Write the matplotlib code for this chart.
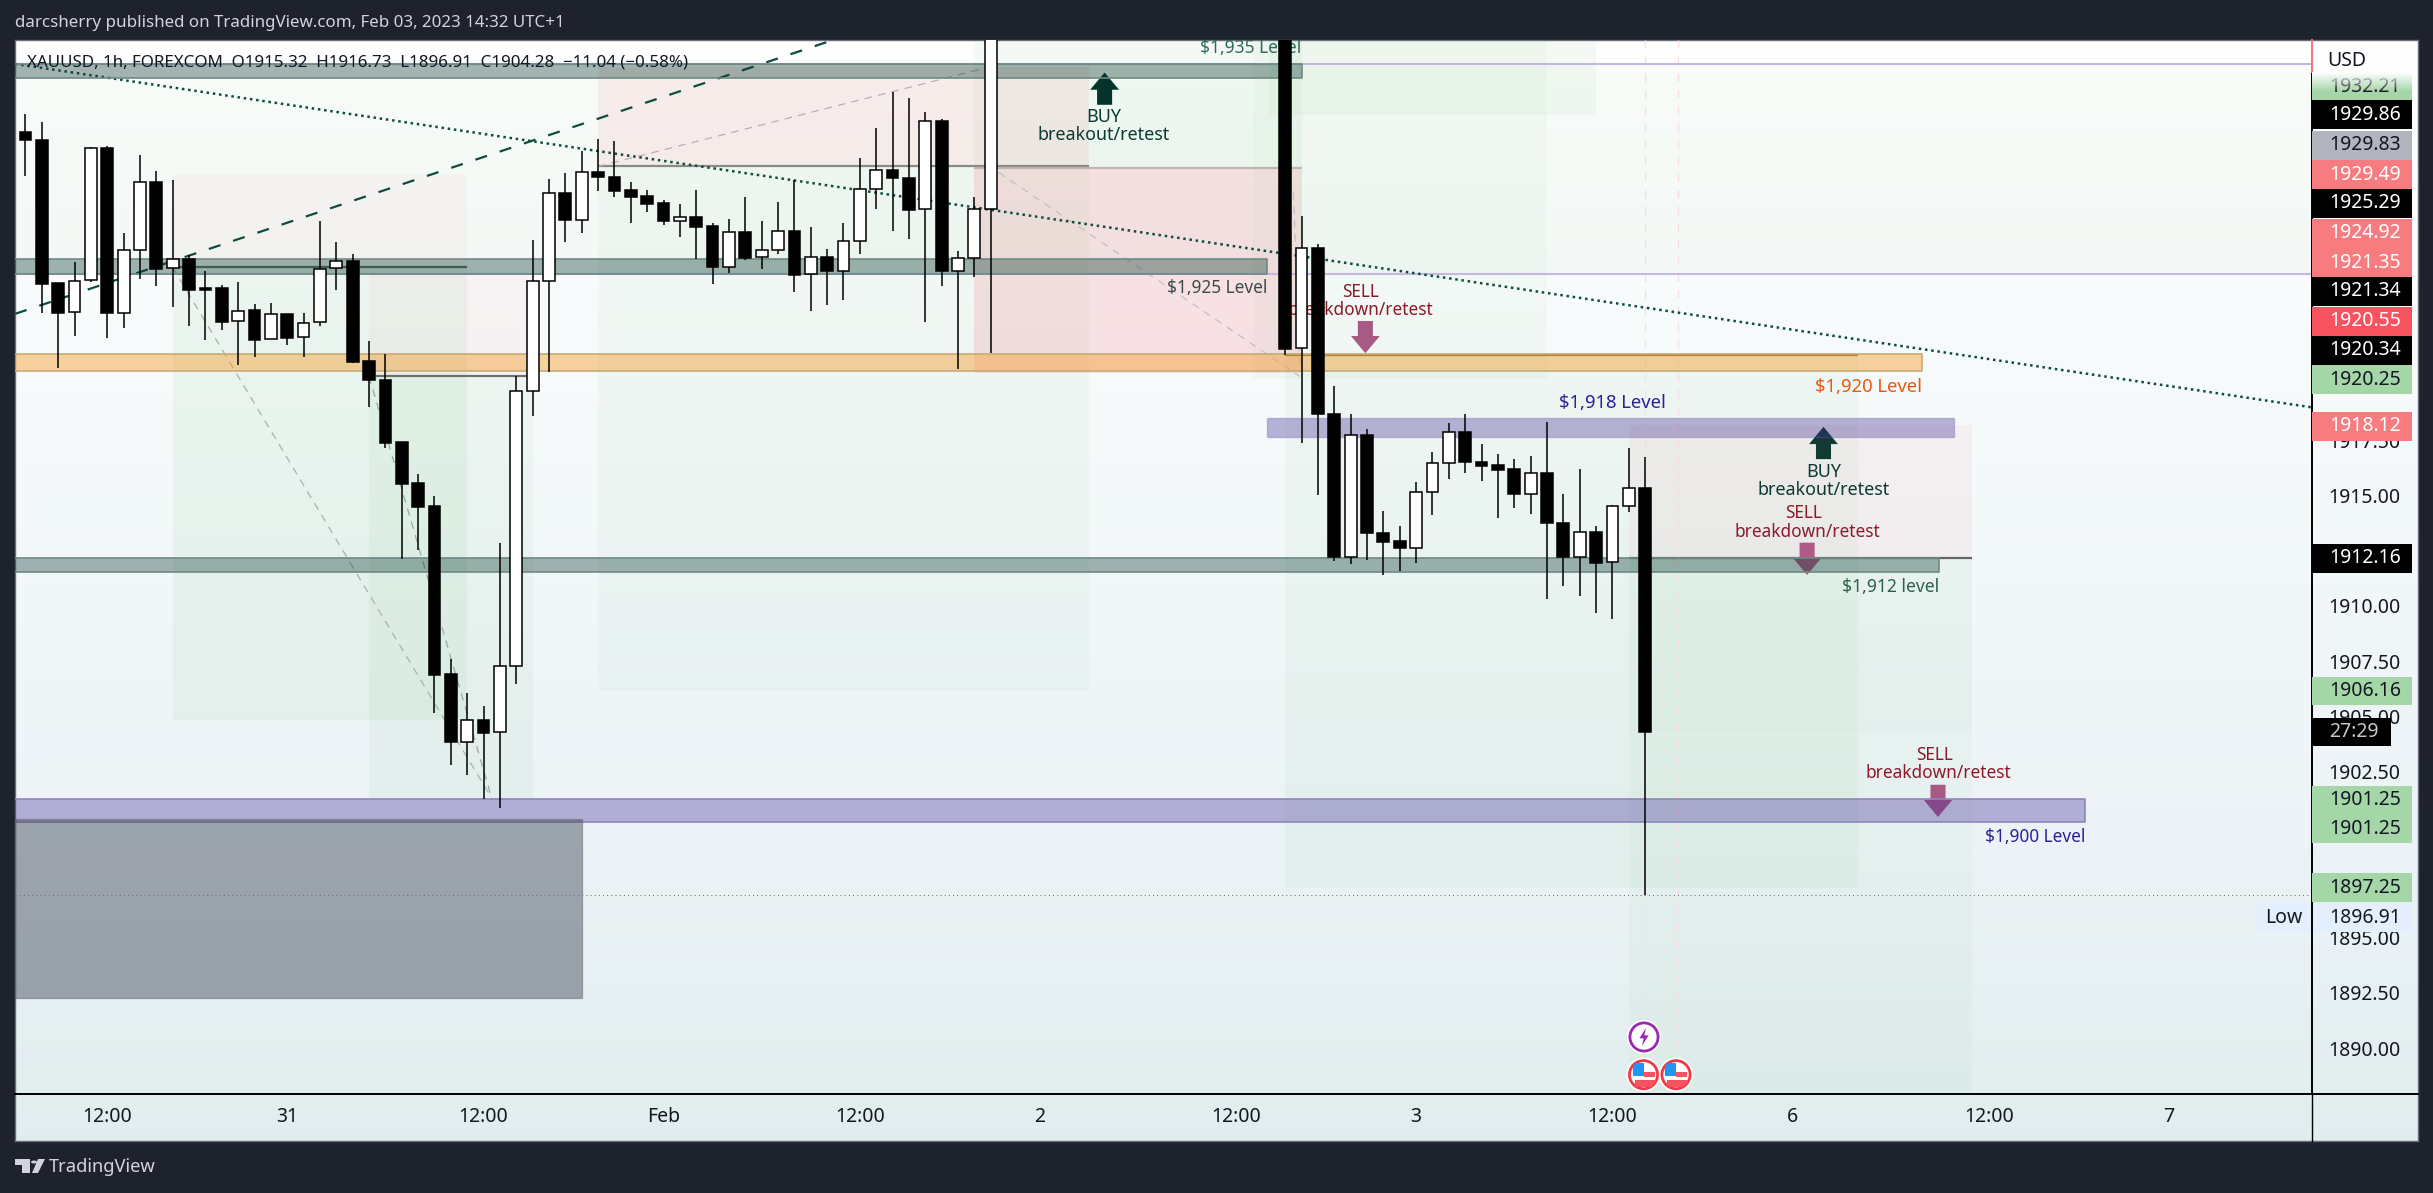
import numpy as np
import matplotlib
matplotlib.use('Agg')
import matplotlib.pyplot as plt
from matplotlib.patches import Rectangle, Polygon, Circle

# hourly candles, the ones between 60 and 76 are above the visible range
bar_index = list(range(60)) + list(range(77, 100))
opens = [1931.43, 1931.09, 1924.60, 1923.29, 1924.74, 1930.72, 1923.24, 1926.09, 1929.17, 1925.28,
         1925.69, 1924.37, 1924.37, 1922.88, 1923.38, 1922.07, 1923.20, 1922.16, 1922.83, 1925.28,
         1925.60, 1921.07, 1920.23, 1917.42, 1915.56, 1914.52, 1906.92, 1903.86, 1904.84, 1904.28,
         1907.27, 1919.71, 1924.72, 1928.67, 1927.45, 1929.64, 1929.40, 1928.82, 1928.55, 1928.23,
         1927.40, 1927.59, 1927.18, 1925.32, 1926.91, 1925.78, 1926.09, 1926.97, 1925.01, 1925.78,
         1925.14, 1926.50, 1928.85, 1929.73, 1929.37, 1927.95, 1931.94, 1925.13, 1925.73, 1927.95,
         1937.50, 1921.66, 1926.18, 1918.69, 1912.21, 1917.74, 1913.29, 1912.93, 1912.61, 1915.15,
         1916.46, 1917.88, 1916.52, 1916.38, 1916.19, 1915.06, 1916.02, 1913.74, 1912.21, 1913.35,
         1911.98, 1914.51, 1915.32]
highs = [1932.25, 1931.88, 1924.60, 1925.55, 1930.77, 1930.81, 1926.86, 1930.41, 1929.68, 1929.28,
         1925.88, 1925.16, 1924.51, 1924.64, 1923.66, 1923.71, 1923.20, 1923.27, 1927.42, 1926.47,
         1925.93, 1921.99, 1921.40, 1917.42, 1915.97, 1914.98, 1907.59, 1906.05, 1905.47, 1912.85,
         1920.38, 1926.56, 1929.32, 1929.59, 1930.59, 1931.12, 1931.04, 1929.18, 1928.82, 1928.36,
         1928.19, 1928.81, 1927.31, 1927.50, 1928.51, 1927.42, 1928.28, 1929.28, 1927.15, 1926.15,
         1927.31, 1930.26, 1931.63, 1933.26, 1932.97, 1932.34, 1932.02, 1926.06, 1928.51, 1938.50,
         1938.50, 1927.65, 1926.36, 1919.96, 1918.69, 1918.00, 1914.30, 1913.62, 1915.61, 1916.97,
         1918.28, 1918.69, 1917.33, 1916.88, 1916.66, 1916.79, 1918.33, 1915.07, 1916.20, 1913.62,
         1914.56, 1917.14, 1916.73]
lows = [1929.43, 1923.23, 1920.74, 1922.23, 1924.63, 1922.14, 1922.59, 1924.81, 1924.49, 1923.54,
        1922.68, 1922.01, 1922.46, 1920.90, 1921.28, 1922.07, 1921.82, 1921.28, 1922.64, 1924.31,
        1920.98, 1919.00, 1917.13, 1912.10, 1912.53, 1905.17, 1902.82, 1902.37, 1901.27, 1900.87,
        1906.48, 1918.61, 1920.60, 1926.44, 1926.85, 1928.79, 1928.48, 1927.30, 1927.83, 1927.21,
        1926.71, 1925.69, 1924.58, 1925.08, 1925.63, 1925.26, 1925.90, 1924.22, 1923.36, 1923.63,
        1923.82, 1925.94, 1927.96, 1926.94, 1926.62, 1922.86, 1924.49, 1920.71, 1924.90, 1921.46,
        1921.37, 1917.39, 1915.03, 1912.01, 1911.90, 1912.09, 1911.38, 1911.56, 1911.92, 1914.09,
        1915.72, 1915.99, 1915.63, 1913.96, 1914.41, 1914.14, 1910.29, 1910.92, 1910.43, 1909.66,
        1909.39, 1914.27, 1896.91]
closes = [1931.06, 1924.58, 1923.27, 1924.72, 1930.71, 1923.23, 1926.08, 1929.17, 1925.26, 1925.69,
          1924.31, 1924.31, 1922.86, 1923.36, 1922.05, 1923.20, 1922.14, 1922.82, 1925.26, 1925.58,
          1921.05, 1920.20, 1917.39, 1915.53, 1914.48, 1906.88, 1903.86, 1904.83, 1904.27, 1907.27,
          1919.71, 1924.72, 1928.67, 1927.44, 1929.62, 1929.38, 1928.79, 1928.52, 1928.20, 1927.39,
          1927.59, 1927.16, 1925.31, 1926.91, 1925.76, 1926.09, 1926.95, 1924.99, 1925.78, 1925.13,
          1926.50, 1928.85, 1929.71, 1929.34, 1927.93, 1931.93, 1925.13, 1925.73, 1927.95, 1937.50,
          1921.64, 1926.18, 1918.66, 1912.19, 1917.73, 1913.28, 1912.91, 1912.60, 1915.15, 1916.46,
          1917.86, 1916.49, 1916.35, 1916.17, 1915.04, 1916.01, 1913.73, 1912.19, 1913.34, 1911.96,
          1914.51, 1915.33, 1904.28]

# axis
y_ticks = [1890, 1892.5, 1895, 1897.5, 1900, 1902.5, 1905, 1907.5, 1910, 1912.5, 1915, 1917.5]
x_ticks = [5, 16, 28, 39, 51, 62, 74, 85, 97, 108, 120, 131]
x_labels = ['12:00', '31', '12:00', 'Feb', '12:00', '2', '12:00', '3', '12:00', '6', '12:00', '7']

# support / resistance zones: top price, bottom price, last bar, colour, edge
zones = [
    (1934.52, 1933.86, 78, '#0c3b33', '#6f8a85'),
    (1925.69, 1925.02, 75.9, '#0c3b33', '#6f8a85'),
    (1921.39, 1920.62, 115.9, '#f59e2c', '#c8ab75'),
    (1912.16, 1911.55, 116.96, '#0c3b33', '#6f8a85'),
    (1901.27, 1900.24, 125.9, '#3f2b96', '#8f87b8'),
]
zone_1918 = (1918.51, 1917.66, 75.9, 117.9)
gray_box = (1900.35, 1892.26, 34)

# position tool boxes: first bar, last bar, top, bottom, colour, alpha
boxes = [
    (9, 27, 1929.53, 1925.31, '#f23645', 0.035),
    (9, 27, 1925.31, 1904.84, '#4caf50', 0.07),
    (21, 31, 1924.98, 1920.38, '#f23645', 0.04),
    (21, 31, 1920.38, 1901.27, '#4caf50', 0.06),
    (35, 65, 1934.40, 1929.88, '#f23645', 0.075),
    (35, 65, 1929.88, 1906.15, '#4caf50', 0.045),
    (58, 78, 1936.50, 1929.83, '#4caf50', 0.05),
    (58, 78, 1929.83, 1920.53, '#f23645', 0.13),
    (75, 93, 1936.50, 1920.27, '#4caf50', 0.04),
    (76, 96, 1936.50, 1932.21, '#4caf50', 0.05),
    (77, 112, 1921.35, 1897.25, '#4caf50', 0.05),
    (98, 119, 1918.19, 1912.16, '#f23645', 0.05),
    (98, 119, 1912.16, 1904.30, '#4caf50', 0.06),
    (98, 119, 1904.30, 1887.00, '#4caf50', 0.04),
]
entry_lines = [
    (9, 27, 1925.31, '#5f6f6b'),
    (21, 31, 1920.38, '#707070'),
    (35, 65, 1929.88, '#8a8a86'),
    (58, 78, 1929.83, '#c0b4b4'),
    (77, 112, 1921.35, '#7a6a50'),
    (98, 119, 1912.16, '#666660'),
]
guide_lines = [
    (9, 1925.31, 28.5, 1901.3, '#a8b2ad'),
    (21, 1920.38, 28.5, 1901.3, '#9aa8a2'),
    (35, 1929.88, 58.5, 1934.3, '#bdaeae'),
    (59.5, 1929.6, 77.9, 1920.38, '#c0c0c4'),
    (77.5, 1928.7, 77.9, 1921.0, '#c0c0c4'),
]

# arrows: bar, tip price, direction, colour
arrows = [
    (65.96, 1934.13, 1, '#04332c'),
    (81.9, 1921.43, -1, '#a85a85'),
    (109.9, 1918.1, 1, '#123a33'),
    (108.9, 1911.4, -1, '#b05a86'),
    (116.9, 1900.45, -1, '#a85a85'),
]

# drawing notes: bar, price, text, align, colour, size
notes = [
    (65.92, 1932.13, 'BUY', 'center', '#0a3a33', 12.9),
    (65.92, 1931.31, 'breakout/retest', 'center', '#0a3a33', 12.9),
    (78, 1935.26, '$1,935 Level', 'right', '#2f6b5c', 12.5),
    (75.9, 1924.39, '$1,925 Level', 'right', '#3c4a4a', 12.4),
    (81.6, 1924.21, 'SELL', 'center', '#8b1a2b', 12.4),
    (81.6, 1923.39, 'breakdown/retest', 'center', '#8b1a2b', 12.4),
    (96.97, 1919.2, '$1,918 Level', 'center', '#2f1e9c', 13.3),
    (115.9, 1919.92, '$1,920 Level', 'right', '#e8590c', 13.3),
    (109.9, 1916.08, 'BUY', 'center', '#0a3a33', 12.9),
    (109.9, 1915.25, 'breakout/retest', 'center', '#0a3a33', 12.9),
    (108.7, 1914.22, 'SELL', 'center', '#8b1a2b', 12.4),
    (108.9, 1913.36, 'breakdown/retest', 'center', '#8b1a2b', 12.4),
    (116.96, 1910.87, '$1,912 level', 'right', '#2a5f52', 12.6),
    (116.7, 1903.26, 'SELL', 'center', '#8b1a2b', 12.4),
    (116.9, 1902.44, 'breakdown/retest', 'center', '#8b1a2b', 12.4),
    (125.9, 1899.56, '$1,900 Level', 'right', '#2f1e9c', 12.4),
]

# boxes on the price scale: text, height on the scale, box colour, text colour
scale_labels = [
    ('1932.21', 1933.48, '#a5d6a7', '#131722'),
    ('1929.86', 1932.22, '#000000', '#ffffff'),
    ('1929.83', 1930.84, '#b2b5be', '#131722'),
    ('1929.49', 1929.50, '#f77c80', '#ffffff'),
    ('1925.29', 1928.21, '#000000', '#ffffff'),
    ('1924.92', 1926.86, '#f77c80', '#ffffff'),
    ('1921.35', 1925.52, '#f77c80', '#ffffff'),
    ('1921.34', 1924.23, '#000000', '#ffffff'),
    ('1920.55', 1922.87, '#f7525f', '#ffffff'),
    ('1920.34', 1921.56, '#000000', '#ffffff'),
    ('1920.25', 1920.24, '#a5d6a7', '#131722'),
    ('1918.12', 1918.13, '#f77c80', '#ffffff'),
    ('1912.16', 1912.15, '#000000', '#ffffff'),
    ('1906.16', 1906.15, '#a5d6a7', '#131722'),
    ('1901.25', 1901.22, '#a5d6a7', '#131722'),
    ('1901.25', 1899.91, '#a5d6a7', '#131722'),
    ('1897.25', 1897.25, '#a5d6a7', '#131722'),
    ('1896.91', 1895.90, '#e3effd', '#131722'),
]

W, H = 2433, 1193
font = 'Noto Sans'
plt.rcParams['font.family'] = [font, 'DejaVu Sans']


def px_rect(left, top, right, bottom):
    return [left / W, 1 - bottom / H, (right - left) / W, (bottom - top) / H]


fig = plt.figure(figsize=(W / 100, H / 100), dpi=100, facecolor='#1e222d')

# gradient behind everything
bg = fig.add_axes(px_rect(15, 40, 2418, 1141), zorder=0)
rows = np.linspace(0, 1, 256)
stops = [0, 0.33, 0.74, 1]
grad = np.stack([np.interp(rows, stops, [1.0, 0.965, 0.925, 0.882]),
                 np.interp(rows, stops, [1.0, 0.98, 0.953, 0.929]),
                 np.interp(rows, stops, [1.0, 0.984, 0.965, 0.933])], axis=1)[:, None, :]
bg.imshow(grad, aspect='auto')
bg.set_xticks([])
bg.set_yticks([])
for s in bg.spines.values():
    s.set_color('#6a6d78')
    s.set_linewidth(1)

ax = fig.add_axes(px_rect(15, 40, 2312, 1094), zorder=1)
ax.patch.set_alpha(0)
ax.set_xlim(-0.64, 139.76)
ax.set_ylim(1887.92, 1935.6)

# faint tint above the 1925 line
ax.axhspan(1925.02, 1934.52, color='#4caf50', alpha=0.03, lw=0, zorder=1)

for x0, x1, top, bot, col, a in boxes:
    ax.add_patch(Rectangle((x0, bot), x1 - x0, top - bot, facecolor=col, alpha=a, lw=0, zorder=1))

for x0, x1, p, col in entry_lines:
    ax.plot([x0, x1], [p, p], color=col, lw=1.6, zorder=2, solid_capstyle='butt')

for x0, y0, x1, y1, col in guide_lines:
    ax.plot([x0, x1], [y0, y1], color=col, lw=0.9, dashes=(6, 5), zorder=2)

# pink event lines
for ev in [99, 101]:
    ax.plot([ev, ev], [1890, 1935.6], color='#f5dfe2', lw=1, dashes=(6, 6), zorder=2)

# trend lines
ax.plot([-0.64, 49.36], [1923.21, 1935.6], color='#0d4d40', lw=1.6, dashes=(5.5, 6), zorder=3)
ax.plot([-0.64, 139.76], [1934.52, 1918.98], color='#0d4d40', lw=1.8, dashes=(1, 1.5), zorder=3)

# purple lines and the low line
ax.axhline(1934.52, color='#c5b8e0', lw=1.5, zorder=2)
ax.axhline(1925.02, color='#c5b8e0', lw=1.5, zorder=2)
ax.axhline(1896.92, color='#6a6f78', lw=0.75, dashes=(1, 3), zorder=5)

# text sits under the candles
for x, y, t, ha, col, size in notes:
    ax.text(x, y, t, ha=ha, va='center', color=col, fontsize=size, zorder=3, clip_on=True)

for x, tip, d, col in arrows:
    pts = [(x, tip), (x + 0.88, tip - d * 0.78), (x + 0.46, tip - d * 0.78), (x + 0.46, tip - d * 1.46),
           (x - 0.46, tip - d * 1.46), (x - 0.46, tip - d * 0.78), (x - 0.88, tip - d * 0.78)]
    ax.add_patch(Polygon(pts, closed=True, facecolor=col, lw=0, zorder=3))

for top, bot, x1, col, edge in zones:
    if col == '#f59e2c':
        a = 0.45
    elif col == '#3f2b96':
        a = 0.34
    else:
        a = 0.37
    ax.add_patch(Rectangle((-0.64, bot), x1 + 0.64, top - bot, facecolor=col, alpha=a, lw=0, zorder=4))
    ax.plot([-0.64, x1, x1, -0.64], [top, top, bot, bot], color=edge, lw=1.2, zorder=4)
top, bot, x0, x1 = zone_1918
ax.add_patch(Rectangle((x0, bot), x1 - x0, top - bot, facecolor='#3f2b96', alpha=0.34,
                       edgecolor='#6a5fa8', lw=1, zorder=4))
top, bot, x1 = gray_box
ax.add_patch(Rectangle((-0.64, bot), x1 + 0.64, top - bot, facecolor='#3a4250', alpha=0.45,
                       edgecolor='#5e6070', lw=1, zorder=4))

# candles
xs = np.array(bar_index)
o = np.array(opens)
c = np.array(closes)
ax.vlines(xs, lows, highs, color='black', lw=1.1, zorder=5)
ax.bar(xs, np.abs(c - o), bottom=np.minimum(o, c), width=0.72,
       color=['white' if cl > op else 'black' for op, cl in zip(o, c)],
       edgecolor='black', linewidth=1.1, zorder=6)

# axes
ax.yaxis.tick_right()
ax.set_yticks(y_ticks)
ax.set_yticklabels(['%.2f' % v for v in y_ticks])
ax.set_xticks(x_ticks)
ax.set_xticklabels(x_labels)
ax.tick_params(axis='y', length=0, pad=12, labelsize=14, labelcolor='#131722')
ax.tick_params(axis='x', length=0, pad=9, labelsize=14, labelcolor='#131722')
ax.get_xticklabels()[3].set_fontweight('bold')
for s in ['top', 'left']:
    ax.spines[s].set_visible(False)
ax.spines['right'].set_linewidth(1.4)
ax.spines['bottom'].set_linewidth(1.4)
ax.spines['right'].set_zorder(7)

# black rule runs on under the price scale and the time axis
ax.plot([1, 1.0461], [0, 0], transform=ax.transAxes, color='black', lw=1.4, clip_on=False, zorder=7)
ax.plot([1, 1], [0, -0.0446], transform=ax.transAxes, color='black', lw=1, clip_on=False, zorder=7)
ax.plot([1, 1], [1, 0.97], transform=ax.transAxes, color='#f77c80', lw=1.4, clip_on=False, zorder=8)

# price scale boxes
trans = ax.get_yaxis_transform()
for t, p, col, txt in scale_labels:
    ax.add_patch(Rectangle((1, p - 0.655), 0.0435, 1.31, facecolor=col, lw=0, transform=trans,
                           clip_on=False, zorder=8))
    ax.text(1.0074, p, t, transform=trans, va='center', ha='left', color=txt, fontsize=14,
            clip_on=False, zorder=9)
# countdown
ax.add_patch(Rectangle((1, 1904.3 - 0.65), 0.0344, 1.30, facecolor='black', lw=0, transform=trans,
                       clip_on=False, zorder=8))
ax.text(1.0074, 1904.3, '27:29', transform=trans, va='center', ha='left', color='#c8c8c8',
        fontsize=14, clip_on=False, zorder=9)
# low tag
ax.add_patch(Rectangle((0.9752, 1895.9 - 0.655), 0.0248, 1.31, facecolor='#e3effd', lw=0,
                       transform=trans, clip_on=False, zorder=8))
ax.text(0.9875, 1895.9, 'Low', transform=trans, va='center', ha='center', color='#131722',
        fontsize=14, zorder=9)
ax.plot([1, 1], [1895.245, 1896.555], transform=trans, color='black', lw=1.4, clip_on=False, zorder=9)

# symbol line and USD
ax.text(0.0052, 0.979, 'XAUUSD, 1h, FOREXCOM  O1915.32  H1916.73  L1896.91  C1904.28  \u221211.04 (\u22120.58%)',
        transform=ax.transAxes, va='center', ha='left', color='#131722', fontsize=12.2, zorder=7)
ax.text(1.0065, 0.98, 'USD', transform=ax.transAxes, va='center', ha='left', color='#131722',
        fontsize=14, zorder=9)

# fade on top of the first scale box
fade = fig.add_axes(px_rect(2312, 72, 2412, 92), zorder=3)
fade_img = np.ones((32, 1, 4))
fade_img[:, 0, 3] = np.linspace(1, 0, 32)
fade.imshow(fade_img, aspect='auto')
fade.axis('off')


def event_icon(cx, cy, edge):
    a = fig.add_axes(px_rect(cx - 18, cy - 18, cx + 18, cy + 18), zorder=4)
    a.set_xlim(-1.1, 1.1)
    a.set_ylim(-1.1, 1.1)
    a.axis('off')
    a.add_patch(Circle((0, 0), 1.05, facecolor='white', lw=0))
    clip = Circle((0, 0), 0.86, transform=a.transData)
    ring = Circle((0, 0), 0.86, facecolor='white', edgecolor=edge, lw=2, zorder=5)
    a.add_patch(ring)
    return a, clip


a, _ = event_icon(1644, 1037, '#9c27b0')
a.add_patch(Polygon([(0.12, 0.55), (-0.28, -0.08), (-0.02, -0.08), (-0.12, -0.55), (0.28, 0.1), (0.02, 0.1)],
                    closed=True, facecolor='#9c27b0', lw=0, zorder=6))
for cx in [1643.5, 1676]:
    a, clip = event_icon(cx, 1074.7, '#f23645')
    r = a.add_patch(Rectangle((-0.55, -0.75), 1.3, 0.4, facecolor='#f7525f', lw=0, zorder=6))
    r.set_clip_path(clip)
    r = a.add_patch(Rectangle((0.0, -0.15), 0.7, 0.3, facecolor='#f7525f', lw=0, zorder=6))
    r.set_clip_path(clip)
    r = a.add_patch(Rectangle((-0.65, -0.05), 0.65, 0.75, facecolor='#2196f3', lw=0, zorder=6))
    r.set_clip_path(clip)

# header and footer on the dark band
fig.text(15 / W, 1 - 23 / H, 'darcsherry published on TradingView.com, Feb 03, 2023 14:32 UTC+1',
         color='#d1d4dc', fontsize=12.2, va='center', ha='left')
fig.text(49 / W, 1 - 1167 / H, 'TradingView', color='#d1d4dc', fontsize=13.2, va='center', ha='left')

# logo, in pixels from the top left
logo_shapes = [
    [(15, 1159), (30, 1159), (30, 1173), (22, 1173), (22, 1165), (15, 1165)],
    [(38, 1159), (45, 1159), (38, 1173), (32, 1173)],
]
for shape in logo_shapes:
    fig.patches.append(Polygon([(x / W, 1 - y / H) for x, y in shape], closed=True, transform=fig.transFigure,
                               facecolor='#d1d4dc', lw=0))
fig.patches.append(Circle((34 / W, 1 - 1162 / H), 3 / W, transform=fig.transFigure, facecolor='#d1d4dc', lw=0))

fig.savefig('out.png', dpi=100, facecolor=fig.get_facecolor())
